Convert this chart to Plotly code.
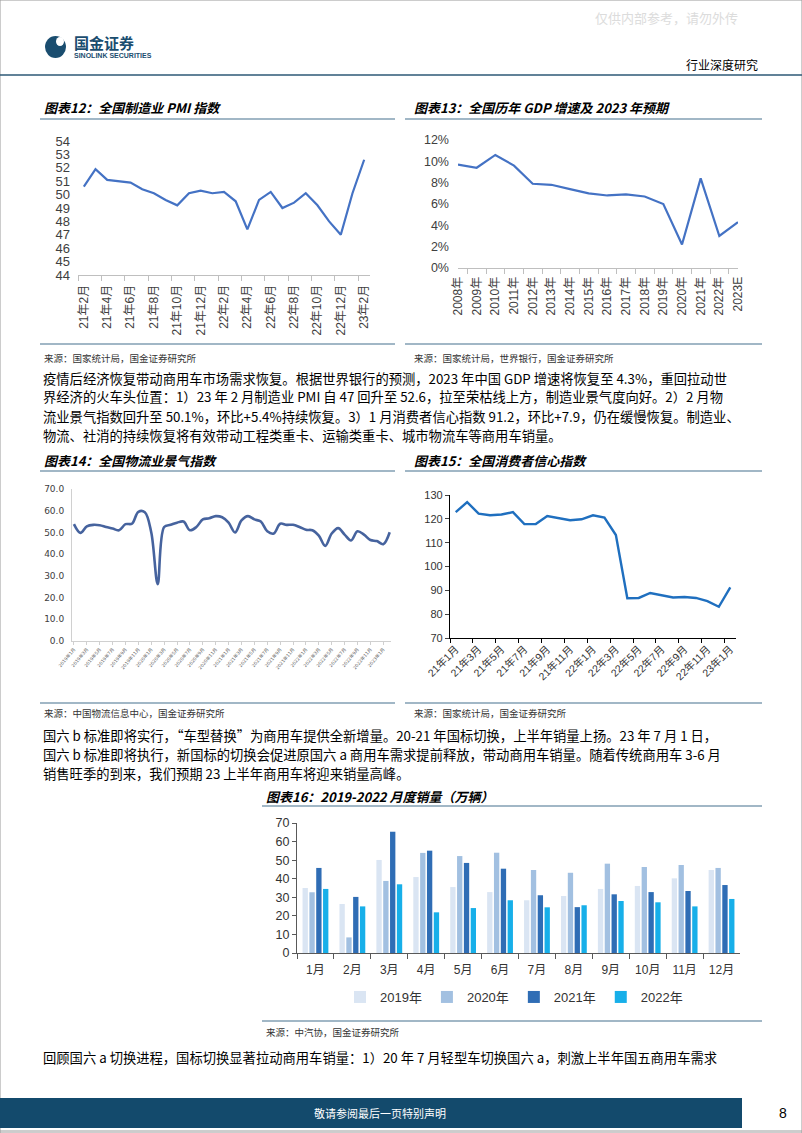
import plotly.graph_objects as go

W, H = 802, 1133
CJK = "Noto Sans CJK SC"
ARIAL = "Liberation Sans, Noto Sans CJK SC"


def px(x):
    return x / W


def py(y):
    return 1 - y / H


# 图表12 全国制造业PMI
pmi_months = ["21年2月", "21年3月", "21年4月", "21年5月", "21年6月", "21年7月", "21年8月",
              "21年9月", "21年10月", "21年11月", "21年12月", "22年1月", "22年2月", "22年3月",
              "22年4月", "22年5月", "22年6月", "22年7月", "22年8月", "22年9月", "22年10月",
              "22年11月", "22年12月", "23年1月", "23年2月"]
pmi_values = [50.6, 51.9, 51.1, 51.0, 50.9, 50.4, 50.1, 49.6, 49.2, 50.1, 50.3, 50.1, 50.2,
              49.5, 47.4, 49.6, 50.2, 49.0, 49.4, 50.1, 49.2, 48.0, 47.0, 50.1, 52.6]

# 图表13 GDP增速
gdp_years = ["2008年", "2009年", "2010年", "2011年", "2012年", "2013年", "2014年", "2015年",
             "2016年", "2017年", "2018年", "2019年", "2020年", "2021年", "2022年", "2023E"]
gdp_growth = [0.097, 0.094, 0.106, 0.096, 0.079, 0.078, 0.074, 0.070, 0.068, 0.069, 0.067,
              0.060, 0.022, 0.084, 0.030, 0.043]

# 图表14 物流业景气指数 2019年1月-2023年2月
lpi_months = [f"{y}年{m}月" for y in range(2019, 2023) for m in range(1, 13)] + ["2023年1月", "2023年2月"]
lpi_values = [53.8, 49.8, 52.8, 53.5, 53.3, 52.5, 51.8, 51.0, 53.8, 54.0, 59.5, 59.3, 50.0,
              26.2, 52.5, 53.5, 54.5, 55.0, 51.0, 52.5, 56.0, 56.5, 57.5, 57.0, 54.5, 50.0,
              55.5, 57.5, 56.0, 55.0, 50.5, 49.5, 54.0, 53.5, 53.5, 52.5, 51.2, 51.0, 48.5,
              43.8, 49.5, 52.0, 49.0, 46.3, 50.5, 49.0, 46.5, 46.0, 44.6, 50.1]

# 图表15 消费者信心指数
cci_months = ["21年1月", "21年2月", "21年3月", "21年4月", "21年5月", "21年6月", "21年7月",
              "21年8月", "21年9月", "21年10月", "21年11月", "21年12月", "22年1月", "22年2月",
              "22年3月", "22年4月", "22年5月", "22年6月", "22年7月", "22年8月", "22年9月",
              "22年10月", "22年11月", "22年12月", "23年1月"]
cci_values = [122.8, 127.0, 122.2, 121.5, 121.8, 122.8, 117.8, 117.8, 121.2, 120.4, 119.4,
              119.8, 121.5, 120.5, 113.2, 86.7, 86.8, 88.9, 87.9, 87.0, 87.2, 86.8, 85.5,
              83.1, 91.2]

# 图表16 月度销量（万辆）
sales_months = ["1月", "2月", "3月", "4月", "5月", "6月", "7月", "8月", "9月", "10月", "11月", "12月"]
sales_2019 = [35.0, 26.4, 50.1, 40.9, 35.5, 32.8, 28.4, 30.7, 34.5, 36.1, 40.2, 44.7]
sales_2020 = [32.7, 8.4, 38.8, 53.9, 52.2, 54.0, 44.7, 43.2, 48.1, 46.3, 47.4, 45.8]
sales_2021 = [45.8, 30.2, 65.3, 55.1, 48.5, 45.4, 31.1, 24.7, 31.6, 32.8, 33.4, 36.6]
sales_2022 = [34.5, 25.1, 37.0, 21.9, 24.2, 28.4, 24.6, 25.7, 28.0, 27.3, 25.1, 29.1]
sales_years = ["2019年", "2020年", "2021年", "2022年"]
sales_colors = ["#dae5f3", "#a2c0e1", "#2f6db5", "#17afe9"]

fig = go.Figure()

idx12 = list(range(len(pmi_months)))
fig.add_trace(go.Scatter(x=idx12, y=pmi_values, mode="lines", line=dict(color="#4472c4", width=2.2),
                         xaxis="x", yaxis="y", showlegend=False))
fig.add_trace(go.Scatter(x=gdp_years, y=gdp_growth, mode="lines", line=dict(color="#4472c4", width=2.2),
                         xaxis="x2", yaxis="y2", showlegend=False))
fig.add_trace(go.Scatter(x=lpi_months, y=lpi_values, mode="lines", line=dict(color="#46639e", width=2.6, shape="spline"),
                         xaxis="x3", yaxis="y3", showlegend=False))
idx15 = list(range(len(cci_months)))
fig.add_trace(go.Scatter(x=idx15, y=cci_values, mode="lines", line=dict(color="#1f6fbf", width=2.4),
                         xaxis="x4", yaxis="y4", showlegend=False))
for name, vals, col in zip(sales_years, [sales_2019, sales_2020, sales_2021, sales_2022], sales_colors):
    fig.add_trace(go.Bar(x=sales_months, y=vals, name=name, marker=dict(color=col, line=dict(width=0)),
                         xaxis="x5", yaxis="y5"))

tick12 = dict(family=ARIAL, size=12, color="#404040")

fig.update_layout(
    width=W, height=H, margin=dict(l=0, r=0, t=0, b=0, autoexpand=False),
    paper_bgcolor="white", plot_bgcolor="white",
    barmode="group", bargap=0.26, bargroupgap=0.22,
    xaxis=dict(domain=[px(78), px(370)], anchor="y", range=[-0.5, len(pmi_months) - 0.5],
               tickmode="array", tickvals=idx12[::2], ticktext=pmi_months[::2], tickangle=-90,
               ticks="", showline=True, linecolor="#bfbfbf", showgrid=False, zeroline=False,
               minor=dict(tickmode="array", tickvals=[i - 0.5 for i in range(0, len(pmi_months) + 1, 2)],
                          ticks="outside", ticklen=5, tickcolor="#bfbfbf"),
               tickfont=tick12, ticklabelstandoff=4, automargin=False),
    yaxis=dict(domain=[py(275), py(141)], anchor="x", range=[44, 54], dtick=1, showgrid=False,
               zeroline=False, showline=False, tickfont=dict(family=ARIAL, size=13, color="#404040"),
               ticklabelstandoff=7, automargin=False),
    xaxis2=dict(domain=[px(458), px(738)], anchor="y2", tickson="boundaries", ticks="outside",
                ticklen=5, tickcolor="#bfbfbf", showline=True, linecolor="#bfbfbf", tickangle=-90,
                showgrid=False, zeroline=False, tickfont=tick12, ticklabelstandoff=3, automargin=False),
    yaxis2=dict(domain=[py(268), py(140)], anchor="x2", range=[0, 0.12], dtick=0.02, tickformat=".0%",
                showgrid=False, zeroline=False, showline=False,
                tickfont=dict(family=ARIAL, size=12.5, color="#404040"), ticklabelstandoff=8,
                automargin=False),
    xaxis3=dict(domain=[px(72), px(391)], anchor="y3", range=[-0.3, len(lpi_months) - 0.8],
                tickmode="array", tickvals=lpi_months[::2], tickangle=-50, ticks="outside", ticklen=3,
                tickcolor="#d0d0d0", showline=True, linecolor="#d0d0d0", showgrid=False, zeroline=False,
                tickfont=dict(family="DejaVu Sans, Noto Sans CJK SC", size=4.5, color="#595959"),
                automargin=False),
    yaxis3=dict(domain=[py(641), py(489)], anchor="x3", range=[0, 70], dtick=10, tickformat=".1f",
                showgrid=False, zeroline=False, showline=True, linecolor="#d0d0d0",
                tickfont=dict(family="DejaVu Sans", size=9, color="#404040"), ticklabelstandoff=5,
                automargin=False),
    xaxis4=dict(domain=[px(450), px(736)], anchor="y4", range=[-0.5, len(cci_months) - 0.5],
                tickmode="array", tickvals=idx15[::2], ticktext=cci_months[::2], tickangle=-45,
                ticks="", showline=True, linecolor="#000000", linewidth=1.2, showgrid=False, zeroline=False,
                minor=dict(tickmode="array", tickvals=[i - 0.5 for i in range(0, len(cci_months) + 1, 2)],
                           ticks="outside", ticklen=4, tickcolor="#000000"),
                tickfont=dict(family=ARIAL, size=10.5, color="#333333"), automargin=False),
    yaxis4=dict(domain=[py(638), py(495)], anchor="x4", range=[70, 130], dtick=10, showgrid=False,
                zeroline=False, showline=True, linecolor="#000000", linewidth=1.2, ticks="outside",
                ticklen=4, tickfont=dict(family=ARIAL, size=11, color="#333333"), automargin=False),
    xaxis5=dict(domain=[px(297), px(740)], anchor="y5", tickson="boundaries", ticks="outside",
                ticklen=5, tickcolor="#595959", showline=True, linecolor="#595959", showgrid=False,
                zeroline=False, tickfont=dict(family=ARIAL, size=12, color="#333333"), ticklabelstandoff=6,
                automargin=False),
    yaxis5=dict(domain=[py(953), py(823)], anchor="x5", range=[0, 70], dtick=10, showgrid=False,
                zeroline=False, showline=True, linecolor="#595959", ticks="outside", ticklen=4,
                tickcolor="#595959", tickfont=dict(family=ARIAL, size=12.5, color="#333333"),
                automargin=False),
    legend=dict(orientation="h", x=px(514), xanchor="center", y=py(997), yanchor="middle",
                font=dict(family=ARIAL, size=13, color="#333333"), bgcolor="rgba(0,0,0,0)",
                itemwidth=30, traceorder="normal"),
)

NAVY = "#1a4d6f"
RULE = "#44708e"


def hline(x0, x1, y, color=RULE, width=1.2):
    fig.add_shape(type="line", xref="paper", yref="paper", x0=px(x0), x1=px(x1), y0=py(y), y1=py(y),
                  line=dict(color=color, width=width))


def txt(x, y, s, size, color="#000000", xanchor="left", family=CJK):
    fig.add_annotation(x=px(x), y=py(y), xref="paper", yref="paper", text=s, showarrow=False,
                       xanchor=xanchor, yanchor="middle", font=dict(size=size, color=color, family=family))


# page frame, header, footer
fig.add_shape(type="rect", xref="paper", yref="paper", x0=0, x1=1, y0=0, y1=1,
              line=dict(color="#9a9a9a", width=1))
txt(593, 17, "仅供内部参考，请勿外传", 13, color="#dcdcdc")
fig.add_shape(type="circle", xref="paper", yref="paper", x0=px(45), x1=px(66), y0=py(58), y1=py(36),
              fillcolor=NAVY, line=dict(width=0))
fig.add_shape(type="circle", xref="paper", yref="paper", x0=px(56), x1=px(64), y0=py(46), y1=py(37),
              fillcolor="white", line=dict(width=0))
txt(72, 42, "<b>国金证券</b>", 15, color=NAVY)
txt(72, 56, "<b>SINOLINK SECURITIES</b>", 7, color=NAVY, family="Liberation Sans Narrow, Liberation Sans")
txt(760, 65, "行业深度研究", 12, xanchor="right")
hline(0, 802, 75, color="#2d5876", width=1.6)

fig.add_shape(type="rect", xref="paper", yref="paper", x0=0, x1=px(742), y0=py(1128), y1=py(1098),
              fillcolor="#134a6c", line=dict(width=0))
txt(380, 1113, "敬请参阅最后一页特别声明", 11, color="white", xanchor="center")
txt(783, 1113, "8", 14, xanchor="center", family=ARIAL)
hline(0, 802, 1131, color="#9a9a9a", width=1)

# chart titles, rules and sources
txt(42, 108, "<b><i>图表12：全国制造业 PMI 指数</i></b>", 13)
txt(412, 108, "<b><i>图表13：全国历年 GDP 增速及 2023 年预期</i></b>", 13)
hline(40, 395, 119)
hline(405, 762, 119)
hline(40, 395, 344)
hline(405, 762, 344)
txt(42, 358, "来源：国家统计局，国金证券研究所", 9.5, color="#333333")
txt(412, 358, "来源：国家统计局，世界银行，国金证券研究所", 9.5, color="#333333")

para1 = [
    "疫情后经济恢复带动商用车市场需求恢复。根据世界银行的预测，2023 年中国 GDP 增速将恢复至 4.3%，重回拉动世",
    "界经济的火车头位置：1）23 年 2 月制造业 PMI 自 47 回升至 52.6，拉至荣枯线上方，制造业景气度向好。2）2 月物",
    "流业景气指数回升至 50.1%，环比+5.4%持续恢复。3）1 月消费者信心指数 91.2，环比+7.9，仍在缓慢恢复。制造业、",
    "物流、社消的持续恢复将有效带动工程类重卡、运输类重卡、城市物流车等商用车销量。",
]
for i, line in enumerate(para1):
    txt(41, 378 + 19 * i, line, 13.3)

txt(42, 461, "<b><i>图表14：全国物流业景气指数</i></b>", 13)
txt(412, 461, "<b><i>图表15：全国消费者信心指数</i></b>", 13)
hline(40, 395, 471)
hline(405, 762, 471)
hline(40, 395, 703)
hline(405, 762, 703)
txt(42, 713, "来源：中国物流信息中心，国金证券研究所", 9.5, color="#333333")
txt(412, 713, "来源：国家统计局，国金证券研究所", 9.5, color="#333333")

para2 = [
    "国六 b 标准即将实行，“车型替换”为商用车提供全新增量。20-21 年国标切换，上半年销量上扬。23 年 7 月 1 日，",
    "国六 b 标准即将执行，新国标的切换会促进原国六 a 商用车需求提前释放，带动商用车销量。随着传统商用车 3-6 月",
    "销售旺季的到来，我们预期 23 上半年商用车将迎来销量高峰。",
]
for i, line in enumerate(para2):
    txt(41, 735 + 19 * i, line, 13.3)

txt(264, 796, "<b><i>图表16：2019-2022 月度销量（万辆）</i></b>", 13)
hline(262, 762, 806)
hline(262, 762, 1021)
txt(264, 1032, "来源：中汽协，国金证券研究所", 9.5, color="#333333")

txt(41, 1057, "回顾国六 a 切换进程，国标切换显著拉动商用车销量：1）20 年 7 月轻型车切换国六 a，刺激上半年国五商用车需求", 13.3)

# the page itself has no body margin
fig.write_html("out.html", config={"displayModeBar": False},
               post_script="document.body.style.margin='0';document.body.style.overflow='hidden';")
